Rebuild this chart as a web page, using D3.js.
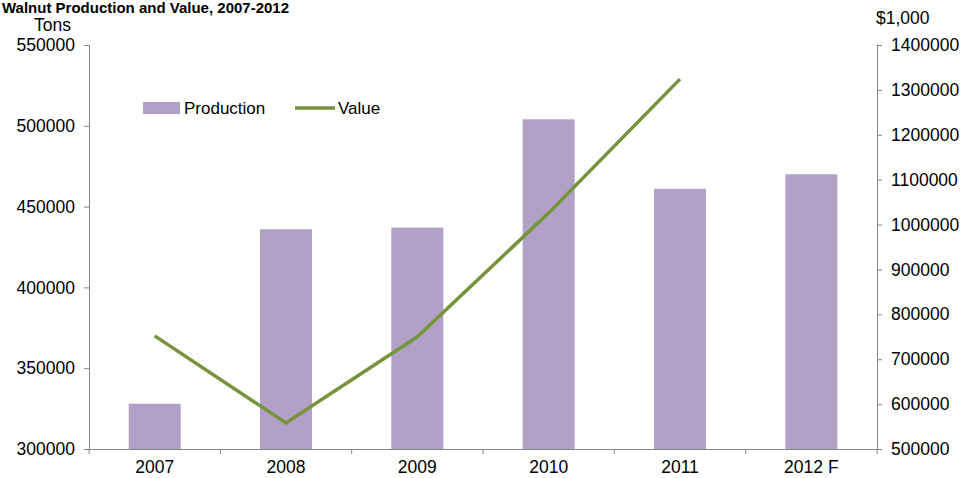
<!DOCTYPE html>
<html><head><meta charset="utf-8">
<script src="https://cdn.jsdelivr.net/npm/d3@7"></script>
<style>body{margin:0;background:#fff}text{font-family:"Liberation Sans",Arial,sans-serif}</style>
</head><body><div id="chart"></div>
<script>
const years = ["2007","2008","2009","2010","2011","2012 F"];
const production = [328000, 436000, 437000, 504000, 461000, 470000];
const value = [752000, 558000, 750000, 1026000, 1324000, null];

const svg = d3.select("#chart").append("svg").attr("width", 964).attr("height", 478);
const L = 89, R = 877, T = 45, B = 449;

const xb = d3.scaleBand().domain(years).range([L, R]);
const yL = d3.scaleLinear().domain([300000, 550000]).range([B, T]);
const yR = d3.scaleLinear().domain([500000, 1400000]).range([B, T]);

svg.append("text").attr("x", 2).attr("y", 13).attr("font-weight", "bold").attr("font-size", 15)
  .text("Walnut Production and Value, 2007-2012");

svg.selectAll("rect.bar").data(years).enter().append("rect")
  .attr("x", d => xb(d) + (xb.bandwidth() - 52) / 2).attr("width", 52)
  .attr("y", (d, i) => yL(production[i])).attr("height", (d, i) => B - yL(production[i]))
  .attr("fill", "#b2a1c7");

const line = d3.line().defined(d => d[1] != null).x(d => xb(d[0]) + xb.bandwidth() / 2).y(d => yR(d[1]));
svg.append("path").datum(years.map((y, i) => [y, value[i]])).attr("d", line)
  .attr("fill", "none").attr("stroke", "#77933c").attr("stroke-width", 3.5);

function style(g) {
  g.attr("font-family", null).attr("font-size", null);
  g.selectAll("path,line").attr("stroke", "#868686");
  g.selectAll("text").style("font-size", "17.5px").attr("fill", "#000");
}
svg.append("g").attr("transform", `translate(${L},0)`)
  .call(d3.axisLeft(yL).tickValues(d3.range(300000, 550001, 50000)).tickFormat(d3.format("d")).tickSizeOuter(0).tickSize(5).tickPadding(9)).call(style);
svg.append("g").attr("transform", `translate(${R},0)`)
  .call(d3.axisRight(yR).tickValues(d3.range(500000, 1400001, 100000)).tickFormat(d3.format("d")).tickSizeOuter(0).tickSize(5).tickPadding(9)).call(style);
const xa = svg.append("g").attr("transform", `translate(0,${B})`)
  .call(d3.axisBottom(xb).tickSize(0).tickSizeOuter(0).tickPadding(12)).call(style);
xa.selectAll(".tick line").remove();
xb.domain().concat(["end"]).forEach((d, i) => {
  const px = L + i * xb.bandwidth();
  svg.append("line").attr("x1", px).attr("x2", px).attr("y1", B).attr("y2", B + 5).attr("stroke", "#868686");
});

svg.append("text").attr("x", 34).attr("y", 31).style("font-size", "17.5px").text("Tons");
svg.append("text").attr("x", 876).attr("y", 24).style("font-size", "17.5px").text("$1,000");

const lg = svg.append("g");
lg.append("rect").attr("x", 143).attr("y", 102).attr("width", 37).attr("height", 12).attr("fill", "#b2a1c7");
lg.append("text").attr("x", 184).attr("y", 114).style("font-size", "17px").text("Production");
lg.append("line").attr("x1", 295).attr("x2", 335).attr("y1", 108).attr("y2", 108).attr("stroke", "#77933c").attr("stroke-width", 3.5);
lg.append("text").attr("x", 338).attr("y", 114).style("font-size", "17px").text("Value");
</script></body></html>
